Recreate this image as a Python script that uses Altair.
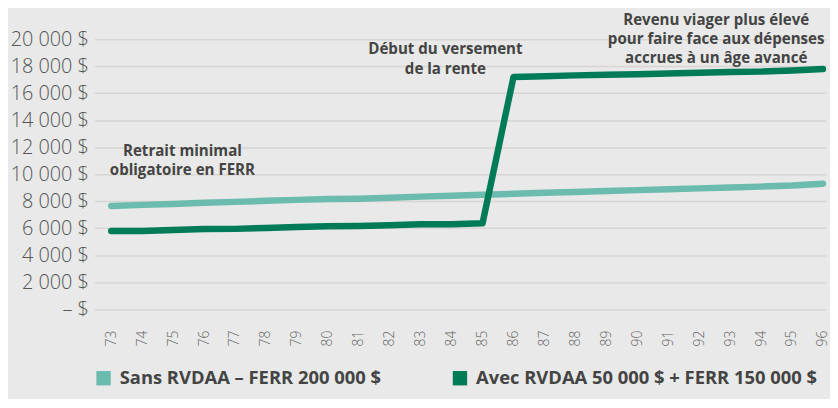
import altair as alt
import pandas as pd

ages = list(range(73, 97))
sans_rvdaa = [7650, 7730, 7800, 7880, 7950, 8030, 8100, 8170, 8190, 8260, 8340, 8410,
              8480, 8550, 8620, 8690, 8760, 8820, 8890, 8950, 9020, 9080, 9160, 9300]
avec_rvdaa = [5800, 5800, 5870, 5940, 5950, 6020, 6090, 6150, 6160, 6220, 6290, 6300,
              6370, 17200, 17260, 17320, 17370, 17400, 17460, 17520, 17570, 17600, 17680, 17790]
series_names = ["Sans RVDAA – FERR 200 000 $", "Avec RVDAA 50 000 $ + FERR 150 000 $"]
series_colors = ["#6bbcaf", "#007b58"]
y_ticks = [0, 2000, 4000, 6000, 8000, 10000, 12000, 14000, 16000, 18000, 20000]

notes_text = [
    "Retrait minimal\nobligatoire en FERR",
    "Début du versement\nde la rente",
    "Revenu viager plus élevé\npour faire face aux dépenses\naccrues à un âge avancé",
]
notes_age = [75.3, 83.8, 92.55]
notes_value = [11750, 19250, 21450]

rows = []
for name, vals in zip(series_names, [sans_rvdaa, avec_rvdaa]):
    for a, v in zip(ages, vals):
        rows.append({"age": a, "value": v, "series": name})
df = pd.DataFrame(rows)
notes = pd.DataFrame({"text": notes_text, "age": notes_age, "value": notes_value})

xscale = alt.Scale(domain=[72.455, 96.1], nice=False, zero=False)
yscale = alt.Scale(domain=[0, 20000], nice=False)

xaxis = alt.Axis(values=ages, title=None, labelAngle=270, labelAlign="right",
                 labelBaseline="middle", labelPadding=21, grid=False, ticks=False,
                 domain=False, labelFontSize=14, labelColor="#666666",
                 labelFont="Open Sans", labelFontWeight=300, labelOverlap=False,
                 labelFlush=False)
yaxis = alt.Axis(values=y_ticks, title=None, grid=True, gridColor="#d9d5d2",
                 gridWidth=1.5, ticks=False, domain=False, labelFontSize=20,
                 labelColor="#555555", labelFont="Open Sans", labelFontWeight=300,
                 labelPadding=6, labelOverlap=False, labelFlush=False,
                 labelExpr="datum.value == 0 ? '– $' : replace(format(datum.value, ','), ',', ' ') + ' $'")

lines = alt.Chart(df).mark_line(strokeWidth=6.5, strokeCap="round", strokeJoin="round").encode(
    x=alt.X("age:Q", scale=xscale, axis=xaxis),
    y=alt.Y("value:Q", scale=yscale, axis=yaxis),
    color=alt.Color("series:N", scale=alt.Scale(domain=series_names, range=series_colors),
                    sort=series_names,
                    legend=alt.Legend(title=None, orient="bottom", direction="horizontal",
                                      symbolType="square", symbolSize=42, symbolStrokeWidth=8,
                                      labelFontSize=18.5, labelFont="Open Sans", labelFontWeight="bold",
                                      labelColor="#444444", columnPadding=60, offset=23,
                                      labelLimit=500, labelOffset=7)),
    order=alt.Order("age:Q"),
)

text = alt.Chart(notes).mark_text(fontSize=15.2, font="Open Sans", fontWeight="bold", color="#444444",
                                   lineBreak="\n", lineHeight=19.5, align="center",
                                   baseline="middle").encode(
    x=alt.X("age:Q", scale=xscale, axis=xaxis),
    y=alt.Y("value:Q", scale=yscale, axis=yaxis),
    text="text:N",
)

chart = alt.layer(lines, text).properties(
    width=737, height=272, background="#e8e9e8",
    padding={"top": 3, "left": 2, "right": 0, "bottom": 0},
).configure_view(stroke=None)

chart.save("out.html", embed_options={"renderer": "svg", "actions": False})
